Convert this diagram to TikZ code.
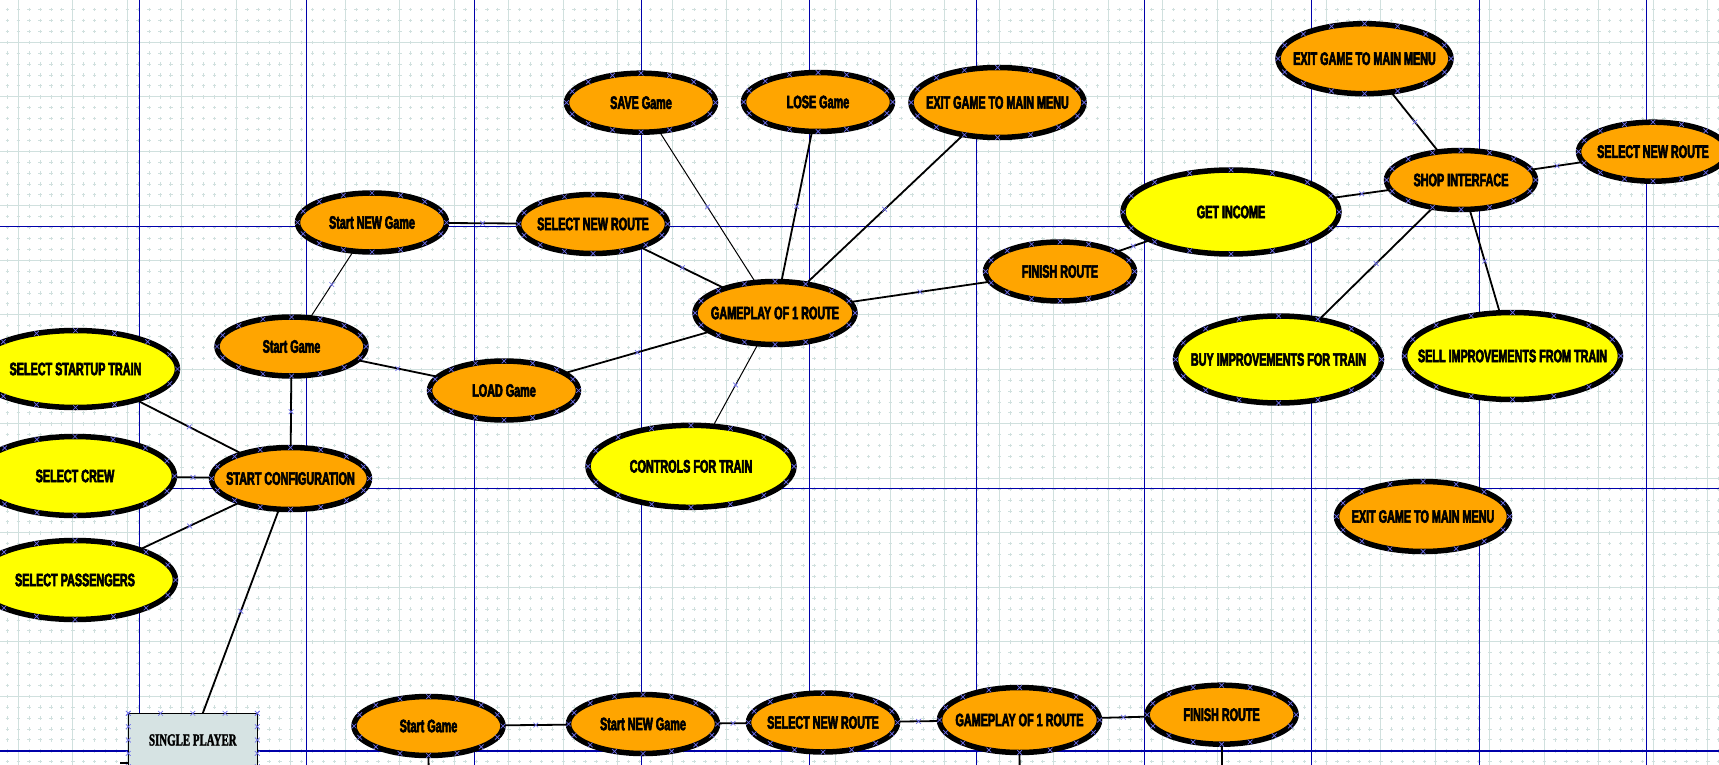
\documentclass[tikz,border=0pt]{standalone}
\usepackage{fontspec}
\usetikzlibrary{shapes.geometric,shapes.misc,calc}
\newfontfamily\heavyfont[FakeStretch=0.6,FakeBold=3.2]{Liberation Sans}
\newfontfamily\boxfont[FakeStretch=0.64,FakeBold=1.8]{Liberation Serif}
\definecolor{ovorange}{RGB}{255,165,0}
\definecolor{ovyellow}{RGB}{255,255,0}
\definecolor{boxgray}{RGB}{214,227,227}
\definecolor{gridgray}{RGB}{208,224,222}
\definecolor{pageblue}{RGB}{0,0,170}
\definecolor{markblue}{RGB}{110,110,235}
\newcommand{\tx}[1]{\makebox[0pt]{#1}}

\begin{document}
\begin{tikzpicture}[x=1pt,y=-1pt,
    oval/.style={ellipse, draw, line width=5.5pt, outer sep=0pt, inner sep=0pt, fill=ovorange, minimum width=149pt, minimum height=59pt, font=\heavyfont\bfseries\fontsize{18}{20}\selectfont},
    bigoval/.style={oval, fill=ovyellow, minimum width=202pt, minimum height=80pt},
    playoval/.style={oval, minimum width=160pt, minimum height=63pt},
    exitoval/.style={oval, minimum width=173pt, minimum height=70pt},
    link/.style={line width=1.8pt},
    thinlink/.style={line width=1pt},
    cmark/.style={cross out, draw=markblue, line width=0.7pt, minimum size=4pt, inner sep=0pt},
    minorgrid/.style={gridgray, line width=0.9pt, dash pattern=on 3.5pt off 7.4pt},
    majorgrid/.style={gridgray, line width=1pt}]
  \useasboundingbox (0,0) rectangle (1719,765);
  \clip (0,0) rectangle (1719,765);
  \fill[white] (0,0) rectangle (1719,765);
  % drawing grid and page breaks
  \foreach \i in {0,...,158} \draw[minorgrid] ({7.4+10.9*\i},-3.05) -- ++(0,780);
  \foreach \j in {0,...,71} \draw[minorgrid] (-5.25,{-1.3+10.9*\j}) -- ++(1740,0);
  \foreach \i in {0,...,31} \draw[majorgrid] ({18.3+54.5*\i},0) -- ++(0,765);
  \foreach \j in {0,...,14} \draw[majorgrid] (0,{-12.2+54.5*\j}) -- ++(1719,0);
  \foreach \i in {0,...,9} \draw[pageblue, line width=1.2pt] ({139.2+167.5*\i},0) -- ++(0,765);
  \foreach \j in {226.5,488.3,751} \draw[pageblue, line width=1.2pt] (0,\j) -- ++(1719,0);

  % configuration
  \node[bigoval, minimum width=204pt, minimum height=77pt] (stt) at (75.5,369) {\tx{SELECT STARTUP TRAIN}};
  \node[bigoval, minimum width=199pt, minimum height=79pt] (crew) at (75,476) {\tx{SELECT CREW}};
  \node[bigoval, minimum width=201pt, minimum height=79pt] (pass) at (75,580) {\tx{SELECT PASSENGERS}};
  \node[oval, minimum width=158pt, minimum height=62pt] (conf) at (290.5,478.5) {\tx{START CONFIGURATION}};
  \node[rectangle, draw, line width=1.2pt, fill=boxgray, outer sep=0pt, minimum width=129pt, minimum height=53.4pt, font=\boxfont\bfseries\fontsize{17}{19}\selectfont] (single) at (192.8,740) {SINGLE PLAYER};
  % game
  \node[oval] (sgame) at (291.5,346.5) {\tx{Start Game}};
  \node[oval] (snew) at (372,222.5) {\tx{Start NEW Game}};
  \node[oval] (sroute) at (593,224) {\tx{SELECT NEW ROUTE}};
  \node[oval] (load) at (504,390.5) {\tx{LOAD Game}};
  \node[playoval] (play) at (775,313) {\tx{GAMEPLAY OF 1 ROUTE}};
  \node[bigoval, minimum width=206pt, minimum height=82pt] (ctrl) at (691,466.3) {\tx{CONTROLS FOR TRAIN}};
  \node[oval] (save) at (641,102.7) {\tx{SAVE Game}};
  \node[oval] (lose) at (818,102) {\tx{LOSE Game}};
  \node[exitoval] (exitplay) at (997.5,102.5) {\tx{EXIT GAME TO MAIN MENU}};
  \node[oval] (fin) at (1060,271.5) {\tx{FINISH ROUTE}};
  % shop
  \node[bigoval, minimum width=216pt, minimum height=84pt] (income) at (1231,212) {\tx{GET INCOME}};
  \node[oval] (shop) at (1461,180) {\tx{SHOP INTERFACE}};
  \node[exitoval] (exitshop) at (1364.5,58.7) {\tx{EXIT GAME TO MAIN MENU}};
  \node[oval] (shoproute) at (1653,151.7) {\tx{SELECT NEW ROUTE}};
  \node[bigoval, minimum width=206pt, minimum height=87pt] (buy) at (1278.5,359.5) {\tx{BUY IMPROVEMENTS FOR TRAIN}};
  \node[bigoval, minimum width=216pt, minimum height=87pt] (sell) at (1512.5,356) {\tx{SELL IMPROVEMENTS FROM TRAIN}};
  \node[exitoval] (exitlone) at (1423,516.5) {\tx{EXIT GAME TO MAIN MENU}};
  % bottom row
  \node[oval] (bgame) at (428.5,726) {\tx{Start Game}};
  \node[oval] (bnew) at (643,724) {\tx{Start NEW Game}};
  \node[oval] (broute) at (823,722.5) {\tx{SELECT NEW ROUTE}};
  \node[playoval, minimum height=65pt] (bplay) at (1019.5,720) {\tx{GAMEPLAY OF 1 ROUTE}};
  \node[oval] (bfin) at (1221.6,714.7) {\tx{FINISH ROUTE}};
  \coordinate (bgamedown) at (428.6,765);
  \coordinate (bplaydown) at (1019.6,765);
  \coordinate (bfindown) at (1222,765);
  \coordinate (singleout) at (120,763);

  \draw[link] (stt) -- node[cmark]{} (conf);
  \draw[link] (crew) -- node[cmark]{} (conf);
  \draw[link] (pass) -- node[cmark]{} (conf);
  \draw[link] (sgame) -- node[cmark]{} (conf);
  \draw[link] (single) -- node[cmark]{} (conf);
  \draw[link] (singleout) -- (singleout -| single.west);
  \draw[thinlink] (sgame) -- node[cmark]{} (snew);
  \draw[link] (sgame) -- node[cmark]{} (load);
  \draw[link] (snew) -- node[cmark]{} (sroute);
  \draw[link] (sroute) -- node[cmark]{} (play);
  \draw[link] (load) -- node[cmark]{} (play);
  \draw[thinlink] (save) -- node[cmark]{} (play);
  \draw[link] (lose) -- node[cmark]{} (play);
  \draw[link] (exitplay) -- node[cmark]{} (play);
  \draw[thinlink] (ctrl) -- node[cmark]{} (play);
  \draw[link] (play) -- node[cmark]{} (fin);
  \draw[link] (fin) -- node[cmark]{} (income);
  \draw[link] (income) -- node[cmark]{} (shop);
  \draw[link] (shop) -- node[cmark]{} (exitshop);
  \draw[link] (shop) -- node[cmark]{} (shoproute);
  \draw[link] (shop) -- node[cmark]{} (buy);
  \draw[link] (shop) -- node[cmark]{} (sell);
  \draw[link] (bgame) -- node[cmark]{} (bnew);
  \draw[link] (bnew) -- node[cmark]{} (broute);
  \draw[link] (broute) -- node[cmark]{} (bplay);
  \draw[link] (bplay) -- node[cmark]{} (bfin);
  \draw[link] (bgame) -- (bgamedown);
  \draw[link] (bplay) -- (bplaydown);
  \draw[link] (bfin) -- (bfindown);

  % connection points
  \foreach \nd in {stt,crew,pass,conf,sgame,snew,sroute,load,play,ctrl,save,lose,exitplay,fin,income,shop,exitshop,shoproute,buy,sell,exitlone,bgame,bnew,broute,bplay,bfin}
    \foreach \t in {0,22.5,...,337.5}
      \path let \p0=(\nd.center), \p1=(\nd.east), \p2=(\nd.north) in
        node[cmark] at ({\x0+cos(\t)*(\x1-\x0)},{\y0+sin(\t)*(\y2-\y0)}) {};
  \foreach \t in {0,0.25,...,1} {
    \node[cmark] at ($(single.north west)!\t!(single.north east)$) {};
    \node[cmark] at ($(single.north west)!\t!(single.south west)$) {};
    \node[cmark] at ($(single.north east)!\t!(single.south east)$) {};
  }
\end{tikzpicture}
\end{document}
